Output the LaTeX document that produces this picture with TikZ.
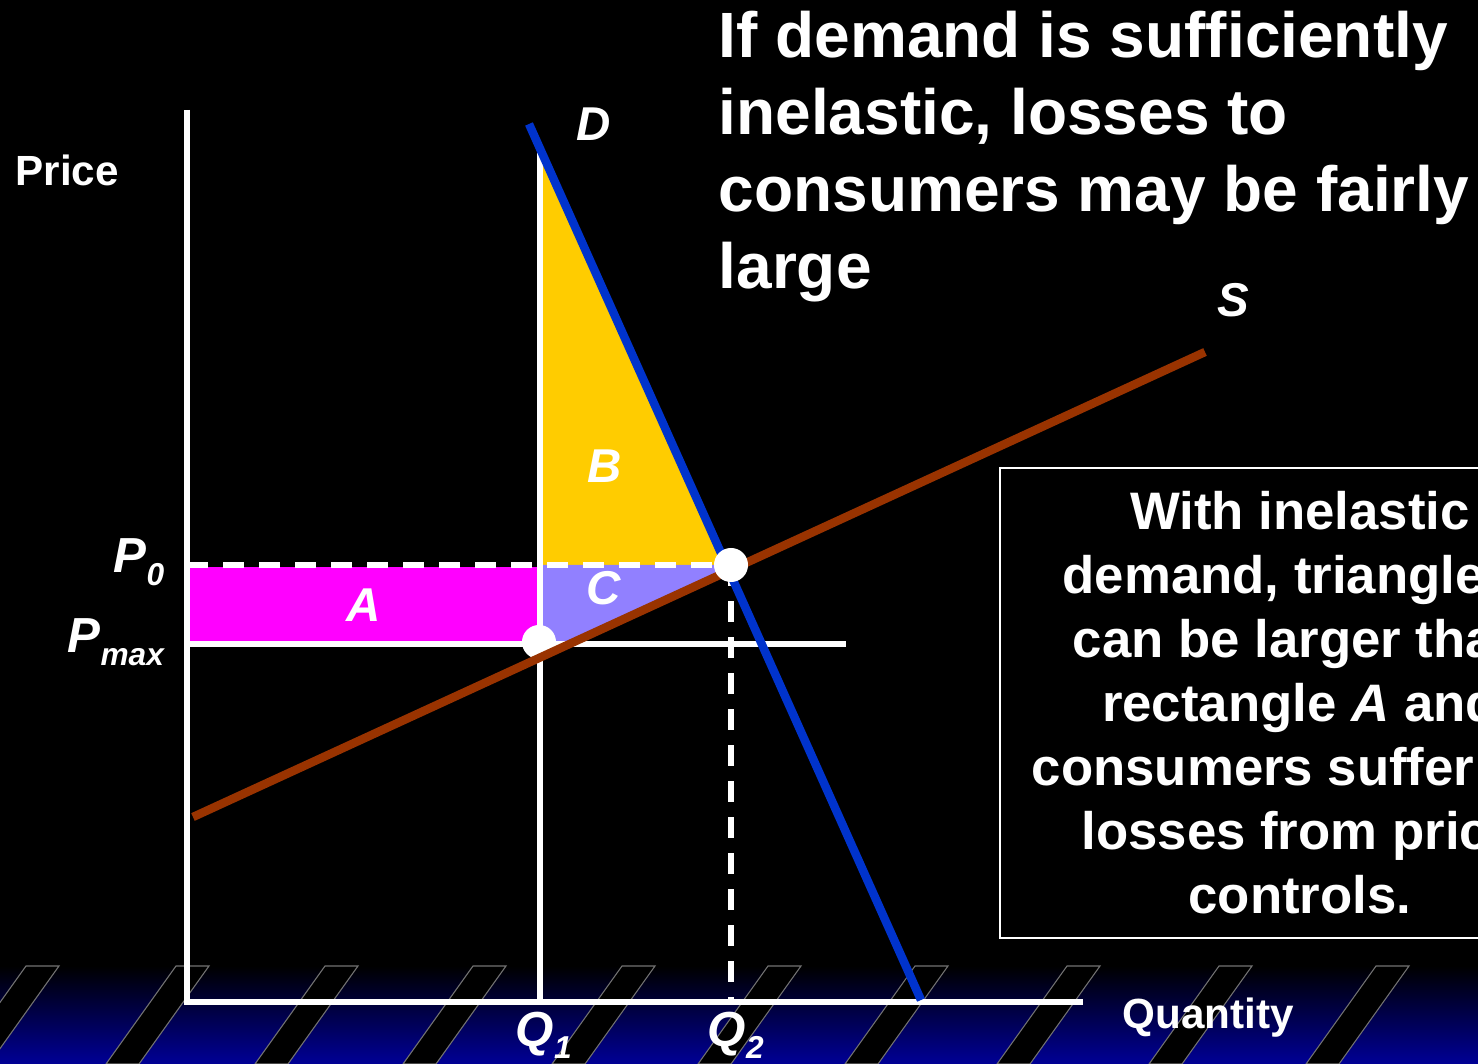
\documentclass[tikz,border=0pt]{standalone}
\usepackage{fontspec}
\setmainfont{Liberation Sans}
\usetikzlibrary{positioning, calc}
\definecolor{dblue}{RGB}{0,51,204}
\definecolor{sbrown}{RGB}{153,51,0}
\definecolor{amag}{RGB}{255,0,255}
\definecolor{byel}{RGB}{255,204,0}
\definecolor{cpurp}{RGB}{145,128,255}
\definecolor{navy}{RGB}{0,0,150}
\tikzset{
  ax/.style = {draw=white, line width=1.7pt},
  pln/.style = {draw=white, line width=1.8pt},
  dln/.style = {draw=white, line width=1.5pt, dash pattern=on 0.21cm off 0.15cm},
  crv/.style = {line width=2.4pt},
  dot/.style = {circle, fill=white, inner sep=0pt, minimum size=0.34cm},
  lbl/.style = {text=white, font=\fontsize{13.5}{13.5}\selectfont\bfseries\itshape,
    inner sep=0pt},
  plbl/.style = {lbl, font=\fontsize{14}{14}\selectfont\bfseries\itshape},
  axlbl/.style = {text=white, font=\fontsize{12}{12}\selectfont\bfseries,
    inner sep=0pt},
  ttl/.style = {text=white, font=\fontsize{18.2}{21.9}\selectfont\bfseries,
    align=left, inner sep=0pt},
  note/.style = {draw=white, line width=0.6pt, text=white, align=center,
    font=\fontsize{15}{18.2}\selectfont\bfseries, minimum width=6cm,
    minimum height=4.7cm},
  stripe/.style = {fill=black, draw=black!55!white, line width=0.3pt}
}
\newcommand{\lsub}[2]{#1\raisebox{-0.25em}{\fontsize{9}{9}\selectfont #2}}

\begin{document}
\begin{tikzpicture}[x=0.01cm, y=-0.01cm]
  \useasboundingbox (0,0) rectangle (1478,1064);
  \clip (0,0) rectangle (1478,1064);
  \fill [black] (0,0) rectangle (1478,1064);
  % floor band
  \shade [top color=black, bottom color=navy] (0,966) rectangle (1478,1064);
  \foreach \sx in {26,176,325,473,622,768,915,1067,1219,1376}
    \filldraw [stripe] (\sx,966) -- ++(33,0) -- ++(-70,98) -- ++(-33,0) -- cycle;
  % points
  \coordinate (O) at (187,1002);
  \coordinate (ytop) at (187,110);
  \coordinate (xend) at (1083,1002);
  \coordinate (dtop) at (529,124);
  \coordinate (dbot) at (921,1000);
  \coordinate (sbot) at (193,817);
  \coordinate (stop) at (1205,352);
  \coordinate (q1top) at (540,150);
  \coordinate (q1) at (540,1002);
  \coordinate (e) at (731,565);
  \coordinate (q2) at (731,1002);
  \coordinate (p0) at (187,565);
  \coordinate (pm) at (187,644);
  \coordinate (pmend) at (846,644);
  % areas
  \fill [amag] (190,567) rectangle (538,641);
  \fill [byel] (540,145) -- (540,565) -- (729,565) -- cycle;
  \fill [cpurp] (540,565) -- (731,565) -- (540,660) -- cycle;
  % lines
  \draw [pln] (q1top) -- (q1);
  \draw [dln] (p0) -- (e);
  \draw [pln] (pm) -- (pmend);
  \draw [dln] (e) -- (q2);
  \draw [ax] (ytop) -- (O) -- (xend);
  \node [dot] (pmdot) at (539,642) {};
  \draw [crv, sbrown] (sbot) -- (stop);
  \draw [crv, dblue] (dtop) -- (dbot);
  \node [dot] (edot) at (e) {};
  % labels
  \node [axlbl, anchor=base west] (price) at (15,186) {Price};
  \node [axlbl, anchor=base west] (qty) at (1122,1028) {Quantity};
  \node [lbl] (dlab) at (594,124) {D};
  \node [lbl] (slab) at (1233,300) {S};
  \node [lbl] (alab) at (364,605) {A};
  \node [lbl] (blab) at (605,466) {B};
  \node [lbl] (clab) at (604,588) {C};
  \node [plbl, anchor=base west] (p0lab) at (113,573) {\lsub{P}{0}};
  \node [plbl, anchor=base west] (pmlab) at (67,653) {\lsub{P}{max}};
  \node [plbl, anchor=base west] (q1lab) at (515,1046) {\lsub{Q}{1}};
  \node [plbl, anchor=base west] (q2lab) at (707,1046) {\lsub{Q}{2}};
  \node [ttl, anchor=north west] (title) at (718,10) {If demand is sufficiently\\inelastic, losses to\\consumers may be fairly\\large};
  \node [note] (box) at (1300,703) {With inelastic\\demand, triangle \textit{B}\\can be larger than\\rectangle \textit{A} and\\consumers suffer net\\losses from price\\controls.};
\end{tikzpicture}
\end{document}
